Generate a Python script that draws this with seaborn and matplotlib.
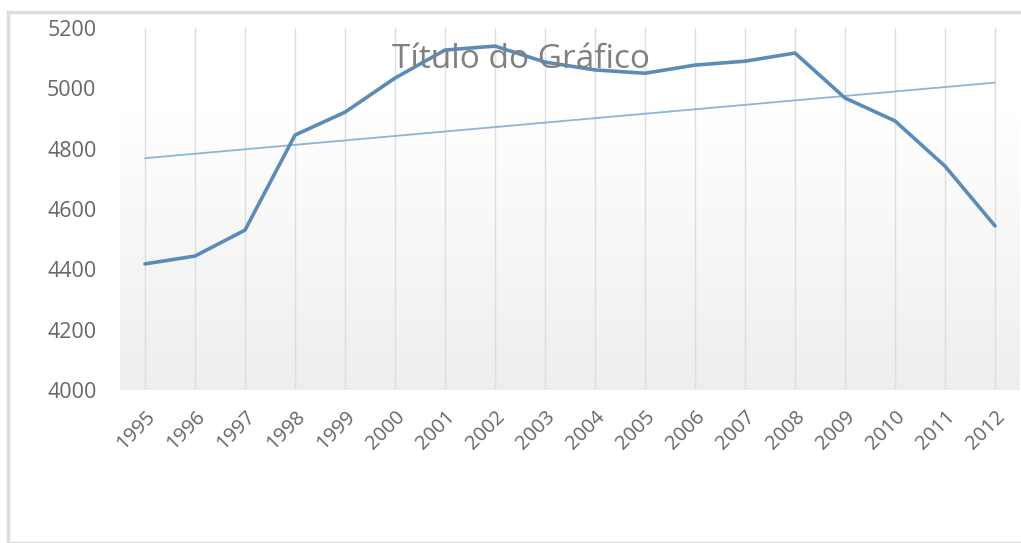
import numpy as np
import pandas as pd
import matplotlib.pyplot as plt
import seaborn as sns
from matplotlib.patches import Rectangle
from matplotlib.colors import LinearSegmentedColormap

# data
years = [1995, 1996, 1997, 1998, 1999, 2000, 2001, 2002, 2003,
         2004, 2005, 2006, 2007, 2008, 2009, 2010, 2011, 2012]
values = [4418, 4444, 4530, 4845, 4921, 5034, 5127, 5140, 5087,
          5061, 5050, 5077, 5090, 5117, 4968, 4892, 4742, 4544]
y_ticks = [4000, 4200, 4400, 4600, 4800, 5000, 5200]
title = "Título do Gráfico"

df = pd.DataFrame({"ano": years, "valor": values})

sns.set_style("white")
plt.rcParams["font.family"] = ["Open Sans", "DejaVu Sans"]

fig = plt.figure(figsize=(10.21, 5.43), dpi=100)

# chart frame (Excel style border)
fig.patches.append(Rectangle((8 / 1021, 0), 1.2, 1 - 12 / 543,
                             transform=fig.transFigure, fill=False,
                             edgecolor="#dcdcdc", linewidth=2.5))

ax = fig.add_axes([120 / 1021, 1 - 390 / 543, 900 / 1021, 362 / 543])
ax.set_facecolor("none")

# soft gradient background of the plot area (white top -> light gray bottom)
grad = np.linspace(0, 1, 256).reshape(-1, 1)
grad = np.clip((grad - 0.22) / 0.78, 0, 1)
bg_cmap = LinearSegmentedColormap.from_list("bg", ["#ffffff", "#eeeeee"])
ax.imshow(grad, extent=[1994.5, 2012.5, 4000, 5200], aspect="auto",
          cmap=bg_cmap, origin="upper", zorder=0, vmin=0, vmax=1)

sns.regplot(data=df, x="ano", y="valor", scatter=False, ci=None, ax=ax,
            line_kws={"color": "#8db4d8", "linewidth": 1.3, "zorder": 2},
            truncate=True)
sns.lineplot(data=df, x="ano", y="valor", ax=ax, color="#5b8cb8",
             linewidth=2.6, zorder=3)

ax.set_xlim(1994.5, 2012.5)
ax.set_ylim(4000, 5200)
ax.set_xticks(years)
ax.set_xticklabels([str(y) for y in years], rotation=45, ha="right",
                   rotation_mode="anchor", fontsize=14.5, color="#666666")
ax.set_yticks(y_ticks)
ax.set_yticklabels([str(v) for v in y_ticks], fontsize=15.5, color="#666666")
ax.tick_params(axis="both", length=0)
ax.tick_params(axis="y", pad=17)
ax.tick_params(axis="x", pad=12)
ax.xaxis.grid(True, color="#dedede", linewidth=1)
ax.yaxis.grid(False)
for s in ax.spines.values():
    s.set_visible(False)
ax.axhline(4000, color="#e0e0e0", linewidth=1)
ax.set_xlabel("")
ax.set_ylabel("")

fig.text(0.51, 1 - 60 / 543, title, ha="center", va="center",
         fontsize=24, color="#808080", zorder=5)

fig.savefig("out.png", dpi=100)
